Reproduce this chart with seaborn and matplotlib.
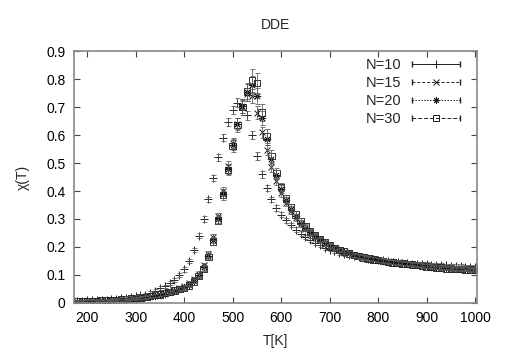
import numpy as np
import pandas as pd
import matplotlib
matplotlib.use("Agg")
import matplotlib.pyplot as plt
import seaborn as sns
from matplotlib.legend_handler import HandlerBase
from matplotlib.lines import Line2D

# temperatures (K), shared by all four system sizes
temps = list(range(180, 1001, 10))

chi_n10 = [0.008, 0.008, 0.009, 0.009, 0.010, 0.011, 0.012, 0.013, 0.015, 0.017, 0.019, 0.021,
           0.024, 0.027, 0.030, 0.036, 0.044, 0.053, 0.060, 0.070, 0.082, 0.100,
           0.120, 0.150, 0.190, 0.240, 0.300, 0.370, 0.445, 0.520, 0.590, 0.645,
           0.690, 0.715, 0.710, 0.670, 0.600, 0.525, 0.460, 0.410, 0.370, 0.340,
           0.315, 0.295, 0.278, 0.262, 0.248, 0.236, 0.225, 0.215, 0.206, 0.198,
           0.191, 0.185, 0.180, 0.175, 0.171, 0.167, 0.164, 0.161, 0.158, 0.156,
           0.154, 0.152, 0.150, 0.148, 0.146, 0.144, 0.142, 0.141, 0.140, 0.139,
           0.138, 0.137, 0.136, 0.135, 0.134, 0.133, 0.132, 0.131, 0.130, 0.129, 0.128]
err_n10 = [0.004, 0.004, 0.004, 0.004, 0.004, 0.004, 0.004, 0.004, 0.004, 0.004, 0.005, 0.005,
           0.005, 0.005, 0.006, 0.006, 0.006, 0.006, 0.006, 0.007, 0.007, 0.007,
           0.008, 0.008, 0.008, 0.009, 0.010, 0.010, 0.011, 0.012, 0.013, 0.014,
           0.015, 0.016, 0.016, 0.015, 0.014, 0.013, 0.012, 0.011, 0.010, 0.010,
           0.009, 0.009, 0.008, 0.008, 0.008, 0.008, 0.007, 0.007, 0.007, 0.007,
           0.007, 0.007, 0.007, 0.007, 0.007, 0.007, 0.007, 0.007, 0.007, 0.007,
           0.007, 0.007, 0.007, 0.007, 0.007, 0.007, 0.007, 0.007, 0.007, 0.007,
           0.007, 0.007, 0.007, 0.007, 0.007, 0.007, 0.007, 0.007, 0.007, 0.007, 0.007]

chi_n15 = [0.004, 0.005, 0.005, 0.006, 0.006, 0.007, 0.008, 0.009, 0.010, 0.011, 0.013, 0.015,
           0.017, 0.019, 0.021, 0.024, 0.027, 0.030, 0.034, 0.039, 0.045, 0.052,
           0.060, 0.070, 0.085, 0.105, 0.135, 0.175, 0.235, 0.310, 0.400, 0.490,
           0.570, 0.640, 0.700, 0.745, 0.740, 0.680, 0.610, 0.545, 0.485, 0.435,
           0.392, 0.356, 0.327, 0.302, 0.282, 0.264, 0.249, 0.236, 0.224, 0.212,
           0.203, 0.195, 0.188, 0.182, 0.177, 0.172, 0.168, 0.164, 0.160, 0.157,
           0.154, 0.151, 0.149, 0.147, 0.145, 0.143, 0.141, 0.139, 0.137, 0.135,
           0.133, 0.132, 0.130, 0.129, 0.128, 0.127, 0.126, 0.125, 0.124, 0.123, 0.122]
err_n15 = [0.004, 0.004, 0.004, 0.004, 0.004, 0.004, 0.004, 0.004, 0.004, 0.004, 0.004, 0.004,
           0.004, 0.005, 0.005, 0.005, 0.005, 0.005, 0.005, 0.006, 0.006, 0.006,
           0.006, 0.007, 0.007, 0.008, 0.009, 0.010, 0.011, 0.012, 0.014, 0.016,
           0.018, 0.020, 0.022, 0.024, 0.024, 0.022, 0.020, 0.018, 0.016, 0.014,
           0.012, 0.011, 0.010, 0.009, 0.009, 0.008, 0.008, 0.008, 0.007, 0.007,
           0.007, 0.007, 0.007, 0.007, 0.007, 0.007, 0.007, 0.007, 0.007, 0.007,
           0.007, 0.007, 0.007, 0.007, 0.007, 0.007, 0.007, 0.007, 0.007, 0.007,
           0.007, 0.007, 0.007, 0.007, 0.007, 0.007, 0.007, 0.007, 0.007, 0.007, 0.007]

chi_n20 = [0.004, 0.004, 0.005, 0.005, 0.006, 0.006, 0.007, 0.008, 0.009, 0.010, 0.012, 0.014,
           0.016, 0.018, 0.020, 0.023, 0.026, 0.029, 0.033, 0.038, 0.044, 0.050,
           0.057, 0.066, 0.080, 0.100, 0.128, 0.168, 0.225, 0.300, 0.390, 0.480,
           0.565, 0.640, 0.705, 0.755, 0.780, 0.740, 0.660, 0.585, 0.515, 0.458,
           0.408, 0.368, 0.336, 0.309, 0.287, 0.268, 0.252, 0.238, 0.226, 0.214,
           0.204, 0.196, 0.189, 0.183, 0.177, 0.172, 0.168, 0.164, 0.160, 0.157,
           0.154, 0.151, 0.148, 0.146, 0.144, 0.142, 0.140, 0.138, 0.136, 0.134,
           0.132, 0.130, 0.129, 0.127, 0.126, 0.125, 0.124, 0.123, 0.122, 0.121, 0.120]
err_n20 = [0.004, 0.004, 0.004, 0.004, 0.004, 0.004, 0.004, 0.004, 0.004, 0.004, 0.004, 0.004,
           0.004, 0.005, 0.005, 0.005, 0.005, 0.005, 0.005, 0.006, 0.006, 0.006,
           0.006, 0.007, 0.007, 0.008, 0.009, 0.010, 0.012, 0.014, 0.016, 0.018,
           0.020, 0.022, 0.025, 0.028, 0.030, 0.028, 0.025, 0.022, 0.019, 0.016,
           0.014, 0.012, 0.011, 0.010, 0.009, 0.009, 0.008, 0.008, 0.008, 0.007,
           0.007, 0.007, 0.007, 0.007, 0.007, 0.007, 0.007, 0.007, 0.007, 0.007,
           0.007, 0.007, 0.007, 0.007, 0.007, 0.007, 0.007, 0.007, 0.007, 0.007,
           0.007, 0.007, 0.007, 0.007, 0.007, 0.007, 0.007, 0.007, 0.007, 0.007, 0.007]

chi_n30 = [0.005, 0.005, 0.006, 0.006, 0.007, 0.008, 0.009, 0.010, 0.011, 0.012, 0.014, 0.016,
           0.018, 0.020, 0.022, 0.025, 0.028, 0.031, 0.035, 0.040, 0.045, 0.050,
           0.054, 0.063, 0.077, 0.096, 0.122, 0.165, 0.220, 0.295, 0.385, 0.475,
           0.560, 0.635, 0.700, 0.755, 0.795, 0.785, 0.680, 0.595, 0.525, 0.465,
           0.415, 0.373, 0.342, 0.316, 0.293, 0.273, 0.256, 0.241, 0.228, 0.216,
           0.206, 0.197, 0.189, 0.183, 0.177, 0.172, 0.167, 0.163, 0.159, 0.156,
           0.153, 0.150, 0.147, 0.145, 0.143, 0.141, 0.139, 0.137, 0.135, 0.133,
           0.131, 0.129, 0.127, 0.126, 0.124, 0.123, 0.122, 0.121, 0.120, 0.119, 0.118]
err_n30 = [0.004, 0.004, 0.004, 0.004, 0.004, 0.004, 0.004, 0.004, 0.004, 0.004, 0.004, 0.004,
           0.004, 0.005, 0.005, 0.005, 0.005, 0.005, 0.005, 0.006, 0.006, 0.006,
           0.006, 0.007, 0.007, 0.008, 0.009, 0.010, 0.012, 0.014, 0.016, 0.019,
           0.022, 0.025, 0.028, 0.032, 0.040, 0.036, 0.030, 0.025, 0.020, 0.017,
           0.015, 0.013, 0.012, 0.011, 0.010, 0.009, 0.009, 0.008, 0.008, 0.008,
           0.007, 0.007, 0.007, 0.007, 0.007, 0.007, 0.007, 0.007, 0.007, 0.007,
           0.007, 0.007, 0.007, 0.007, 0.007, 0.007, 0.007, 0.007, 0.007, 0.007,
           0.007, 0.007, 0.007, 0.007, 0.007, 0.007, 0.007, 0.007, 0.007, 0.007, 0.007]

labels = ["N=10", "N=15", "N=20", "N=30"]
chis = [chi_n10, chi_n15, chi_n20, chi_n30]
errs = [err_n10, err_n15, err_n20, err_n30]

frames = []
for lab, c, e in zip(labels, chis, errs):
    frames.append(pd.DataFrame({"T": temps, "chi": c, "err": e, "N": lab}))
df = pd.concat(frames, ignore_index=True)

sns.set_theme(style="ticks")
plt.rcParams["font.family"] = ["Liberation Sans", "DejaVu Sans"]

# gnuplot-ish looks for each size
styles = {
    "N=10": dict(marker="+", s=40, ls="-", fc="k"),
    "N=15": dict(marker="x", s=18, ls=(0, (3, 2)), fc="k"),
    "N=20": dict(marker=(8, 2, 0), s=22, ls=(0, (1.5, 1.5)), fc="k"),
    "N=30": dict(marker="s", s=22, ls=(0, (4, 2)), fc="none"),
}


class GnuKey(HandlerBase):
    """legend sample like gnuplot: line with end caps and the point in the middle"""
    def create_artists(self, legend, orig_handle, xdescent, ydescent,
                       width, height, fontsize, trans):
        st = styles[orig_handle]
        y = height / 2 - ydescent
        x0, x1 = -xdescent, -xdescent + width
        line = Line2D([x0, x1], [y, y], color="#222222", lw=0.7, ls=st["ls"], transform=trans)
        caps = Line2D([x0, x1], [y, y], color="#222222", lw=0.7, ls="none", marker="|",
                      markersize=5, transform=trans)
        pt = Line2D([(x0 + x1) / 2], [y], color="k", ls="none", marker=st["marker"],
                    markersize=np.sqrt(st["s"]), markerfacecolor=st["fc"],
                    markeredgecolor="k", markeredgewidth=0.7, transform=trans)
        return [line, caps, pt]


fig = plt.figure(figsize=(5.07, 3.55), dpi=100)
ax = fig.add_axes([0.146, 0.1465, 0.795, 0.7098])

for lab in labels:
    sub = df[df["N"] == lab]
    st = styles[lab]
    ax.errorbar(sub["T"], sub["chi"], yerr=sub["err"], fmt="none", ecolor="#555555",
                elinewidth=0.55, capsize=1.8, capthick=0.55)
    if lab == "N=30":
        sns.scatterplot(data=sub, x="T", y="chi", ax=ax, marker="s", s=st["s"],
                        facecolor="none", edgecolor="#222222", linewidth=0.65, legend=False)
    else:
        sns.scatterplot(data=sub, x="T", y="chi", ax=ax, marker=st["marker"], s=st["s"],
                        color="#111111", linewidth=0.65, legend=False)

ax.set_xlim(173, 1004)
ax.set_ylim(0, 0.9)
ax.set_xticks(range(200, 1001, 100))
ax.set_yticks(np.arange(0, 0.91, 0.1))
ax.set_yticklabels(["0", "0.1", "0.2", "0.3", "0.4", "0.5", "0.6", "0.7", "0.8", "0.9"])
ax.tick_params(direction="in", length=4, width=0.8, color="#444444", labelsize=10,
               top=True, right=True, labelcolor="black", pad=6)
for sp in ax.spines.values():
    sp.set_color("#888888")
    sp.set_linewidth(1.2)

ax.set_title("DDE", fontsize=10, pad=16)
ax.set_xlabel("T[K]", fontsize=10, labelpad=6)
ax.set_ylabel("χ(T)", fontsize=10, labelpad=12)

ax.legend(labels, labels, handler_map={lab: GnuKey() for lab in labels},
          loc="upper right", bbox_to_anchor=(0.99, 1.025), frameon=False,
          markerfirst=False, handlelength=3.3, handletextpad=0.7,
          labelspacing=0.28, fontsize=10.5)

fig.savefig("out.png", dpi=100)
